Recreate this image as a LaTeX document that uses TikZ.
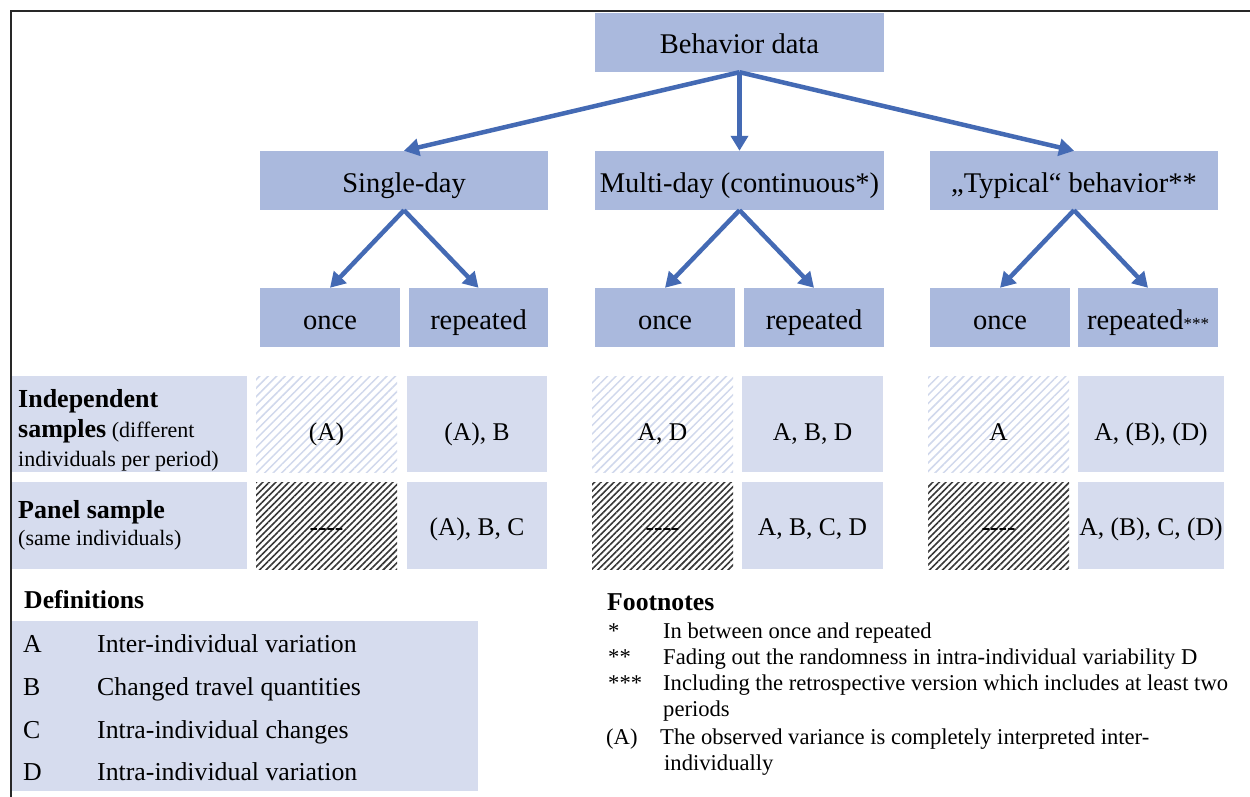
\documentclass[tikz,border=0pt]{standalone}
\usepackage{fontspec}
\setmainfont{Liberation Serif}
\usetikzlibrary{arrows.meta,patterns.meta}
\definecolor{hdr}{RGB}{170,185,221}
\definecolor{lite}{RGB}{214,220,238}
\definecolor{arr}{RGB}{68,106,180}
\definecolor{hatchlite}{RGB}{208,216,236}
\definecolor{hatchdark}{RGB}{55,55,55}
\definecolor{frame}{RGB}{40,40,40}
\begin{document}
\begin{tikzpicture}[x=1pt,y=-1pt,
  hbox/.style={rectangle, fill=hdr, inner sep=0pt, minimum height=59pt, text height=23pt, text depth=0pt, font=\fontsize{28.5}{34}\selectfont},
  rowone/.style={minimum height=96pt, text height=32pt, text depth=0pt},
  rowtwo/.style={minimum height=87pt, text height=19pt, text depth=0pt},
  cellbox/.style={rectangle, fill=lite, inner sep=0pt, font=\fontsize{25.5}{30}\selectfont},
  lhatch/.style={rectangle, inner sep=0pt, pattern={Lines[angle=45,distance=6pt,line width=1.5pt]}, pattern color=hatchlite, font=\fontsize{25.5}{30}\selectfont},
  dhatch/.style={rectangle, inner sep=0pt, pattern={Lines[angle=45,distance=4.6pt,line width=1.6pt]}, pattern color=hatchdark, font=\fontsize{25.5}{30}\selectfont},
  rowhead/.style={rectangle, fill=lite, inner sep=0pt, minimum width=235pt},
  conn/.style={draw=arr, line width=4.5pt, -{Triangle[length=15pt,width=17pt]}},
  hb/.style={font=\bfseries\fontsize{26}{30}\selectfont},
  hn/.style={font=\fontsize{22}{26}\selectfont},
  txt/.style={anchor=base west, inner sep=0pt},
  deftxt/.style={anchor=base west, inner sep=0pt, font=\fontsize{25.8}{30}\selectfont},
  fntxt/.style={anchor=base west, inner sep=0pt, font=\fontsize{22.6}{26}\selectfont},
]
\useasboundingbox (0,0) rectangle (1250,797);
\fill[white] (0,0) rectangle (1250,797);
% frame
\draw[frame, line width=1.6pt] (11,797) -- (11,11) -- (1250,11);

% top level
\node[hbox, minimum width=289pt] (bd) at (739.5,42.5) {Behavior data};
\node[hbox, minimum width=288pt] (sd) at (404,180.5) {Single-day};
\node[hbox, minimum width=289pt] (md) at (739.5,180.5) {Multi-day (continuous*)};
\node[hbox, minimum width=288pt] (ty) at (1074,180.5) {„Typical“ behavior**};

\node[hbox, minimum width=140pt] (sd1) at (330,317.5) {once};
\node[hbox, minimum width=139pt] (sd2) at (478.5,317.5) {repeated};
\node[hbox, minimum width=140pt] (md1) at (665,317.5) {once};
\node[hbox, minimum width=140pt] (md2) at (814,317.5) {repeated};
\node[hbox, minimum width=140pt] (ty1) at (1000,317.5) {once};
\node[hbox, minimum width=140pt] (ty2) at (1148,317.5) {repeated{\fontsize{17}{20}\selectfont***}};

% connectors
\draw[conn] (bd.south) -- (sd.north);
\draw[conn] (bd.south) -- (md.north);
\draw[conn] (bd.south) -- (ty.north);
\draw[conn] (sd.south) -- (sd1.north);
\draw[conn] (sd.south) -- (sd2.north);
\draw[conn] (md.south) -- (md1.north);
\draw[conn] (md.south) -- (md2.north);
\draw[conn] (ty.south) -- (ty1.north);
\draw[conn] (ty.south) -- (ty2.north);

% row headers
\node[rowhead, minimum height=96pt] (rh1) at (129.5,424) {};
\node[rowhead, minimum height=87pt] (rh2) at (129.5,525.5) {};
\node[txt, hb] (ih1) at (18,407) {Independent};
\node[txt, hn] (ih2) at (18,437) {{\bfseries\fontsize{26}{30}\selectfont samples}\ (different};
\node[txt, hn] (ih3) at (18,466.5) {individuals per period)};
\node[txt, hb] (ph1) at (18,518) {Panel sample};
\node[txt, hn] (ph2) at (18,545) {(same individuals)};

% row 1 cells
\node[lhatch, rowone, minimum width=141pt] (c11) at (326.5,424) {(A)};
\node[cellbox, rowone, minimum width=140pt] (c12) at (477,424) {(A), B};
\node[lhatch, rowone, minimum width=141pt] (c13) at (662.5,424) {A, D};
\node[cellbox, rowone, minimum width=141pt] (c14) at (812.5,424) {A, B, D};
\node[lhatch, rowone, minimum width=141pt] (c15) at (998.5,424) {A};
\node[cellbox, rowone, minimum width=146pt] (c16) at (1151,424) {A, (B), (D)};

% row 2 cells
\node[dhatch, rowtwo, minimum width=141pt] (c21) at (326.5,525.5) {-{}-{}-{}-};
\node[cellbox, rowtwo, minimum width=140pt] (c22) at (477,525.5) {(A), B, C};
\node[dhatch, rowtwo, minimum width=141pt] (c23) at (662.5,525.5) {-{}-{}-{}-};
\node[cellbox, rowtwo, minimum width=141pt] (c24) at (812.5,525.5) {A, B, C, D};
\node[dhatch, rowtwo, minimum width=141pt] (c25) at (998.5,525.5) {-{}-{}-{}-};
\node[cellbox, rowtwo, minimum width=146pt] (c26) at (1151,525.5) {A, (B), C, (D)};

% definitions
\node[txt, font=\bfseries\fontsize{25.7}{30}\selectfont] (defh) at (24,608) {Definitions};
\node[rectangle, fill=lite, inner sep=0pt, minimum width=466pt, minimum height=170pt] (defbox) at (245,706) {};
\node[deftxt] (dA) at (23,652) {A};
\node[deftxt] (dAt) at (97,652) {Inter-individual variation};
\node[deftxt] (dB) at (23,695) {B};
\node[deftxt] (dBt) at (97,695) {Changed travel quantities};
\node[deftxt] (dC) at (23,738) {C};
\node[deftxt] (dCt) at (97,738) {Intra-individual changes};
\node[deftxt] (dD) at (23,780) {D};
\node[deftxt] (dDt) at (97,780) {Intra-individual variation};

% footnotes
\node[txt, font=\bfseries\fontsize{25.7}{30}\selectfont] (fnh) at (607,610) {Footnotes};
\node[fntxt] (f1) at (608,638) {*};
\node[fntxt] (f1t) at (663,638) {In between once and repeated};
\node[fntxt] (f2) at (608,664) {**};
\node[fntxt] (f2t) at (663,664) {Fading out the randomness in intra-individual variability D};
\node[fntxt] (f3) at (608,690) {***};
\node[fntxt] (f3t) at (663,690) {Including the retrospective version which includes at least two};
\node[fntxt] (f3u) at (663,716) {periods};
\node[fntxt] (f4) at (606,744) {(A)};
\node[fntxt] (f4t) at (660,744) {The observed variance is completely interpreted inter-};
\node[fntxt] (f4u) at (664,770) {individually};
\end{tikzpicture}
\end{document}
